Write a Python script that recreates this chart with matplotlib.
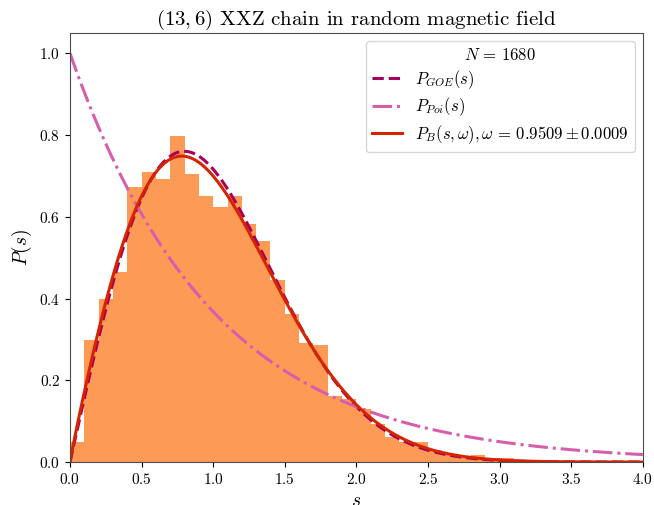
import numpy as np
import matplotlib
matplotlib.use('Agg')
import matplotlib.pyplot as plt
from math import gamma

plt.rcParams['font.family'] = 'serif'
plt.rcParams['font.serif'] = ['cmr10']
plt.rcParams['mathtext.fontset'] = 'cm'
plt.rcParams['axes.formatter.use_mathtext'] = True
plt.rcParams['axes.unicode_minus'] = False

# histogram of level spacings (bin width 0.1)
bin_edges = np.round(np.arange(0, 3.31, 0.1), 2)
hist_vals = [0.048, 0.298, 0.399, 0.466, 0.672, 0.709, 0.692, 0.798, 0.704, 0.650,
             0.625, 0.650, 0.583, 0.541, 0.446, 0.362, 0.291, 0.287, 0.161, 0.155,
             0.131, 0.094, 0.061, 0.048, 0.048, 0.030, 0.018, 0.010, 0.018, 0.009,
             0.011, 0.004, 0.005]
omega = 0.9509
omega_err = 0.0009
n_levels = 1680

s = np.linspace(0, 4, 400)
p_goe = np.pi / 2 * s * np.exp(-np.pi * s**2 / 4)
p_poi = np.exp(-s)
b = gamma((omega + 2) / (omega + 1)) ** (omega + 1)
p_brody = (omega + 1) * b * s**omega * np.exp(-b * s**(omega + 1))

fig, ax = plt.subplots(figsize=(6.54, 5.05), dpi=100)
fig.subplots_adjust(left=0.107, right=0.983, top=0.935, bottom=0.085)

ax.bar(bin_edges[:-1], hist_vals, width=0.1, align='edge', color='#fd9a56', linewidth=0)
ax.plot(s, p_goe, '--', color='#a8005a', lw=2.2, label=r'$P_{GOE}(s)$')
ax.plot(s, p_poi, '-.', color='#d65fad', lw=2.2, label=r'$P_{Poi}(s)$')
ax.plot(s, p_brody, '-', color='#d62400', lw=2.2,
        label=r'$P_B(s,\omega),\omega\,=\,%.4f \pm %.4f$' % (omega, omega_err))

ax.set_xlim(0, 4)
ax.set_ylim(0, 1.05)
ax.set_xlabel(r'$s$', fontsize=14)
ax.set_ylabel(r'$P(s)$', fontsize=14)
ax.set_title(r'$(13,6)$ XXZ chain in random magnetic field', fontsize=15)
ax.tick_params(labelsize=11)
for sp in ax.spines.values():
    sp.set_color('0.3')

ax.legend(title=r'$N\,=\,%d$' % n_levels, loc='upper right', fontsize=12,
          title_fontsize=12, handlelength=1.8, labelspacing=0.3, borderpad=0.35)

fig.savefig('out.png', dpi=100)
